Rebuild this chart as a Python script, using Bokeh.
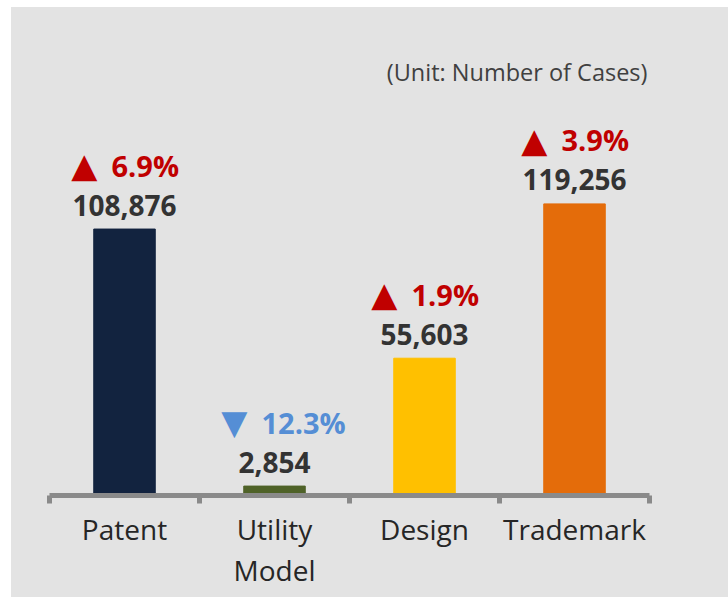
from bokeh.plotting import figure
from bokeh.layouts import column, row
from bokeh.models import Range1d, FixedTicker, ColumnDataSource, Spacer
from bokeh.core.properties import value
from bokeh.embed import file_html
from bokeh.resources import INLINE

categories = ["Patent", "Utility\nModel", "Design", "Trademark"]
counts = [108876, 2854, 55603, 119256]
changes = [6.9, -12.3, 1.9, 3.9]
bar_colors = ["#12233f", "#4f6228", "#ffc000", "#e46c0a"]
unit_label = "(Unit: Number of Cases)"

xs = list(range(1, len(categories) + 1))
count_text = [f"{c:,}" for c in counts]
arrow_text = ["▲" if c > 0 else "▼" for c in changes]
change_text = [f"{abs(c):.1f}%" for c in changes]
change_color = ["#c00000" if c > 0 else "#558ed5" for c in changes]

src = ColumnDataSource(dict(x=xs, top=counts, color=bar_colors, ctext=count_text,
                            atext=arrow_text, ptext=change_text, pcolor=change_color))

ypp = 412.5  # data units per pixel
x0 = 0.5 - 25 / 150
p = figure(width=717, height=590, output_backend="svg", toolbar_location=None,
           x_range=Range1d(x0, x0 + 628 / 150),
           y_range=Range1d(-2.5 * ypp, -2.5 * ypp + 395 * ypp),
           y_axis_location=None,
           min_border_left=13, min_border_right=76, min_border_top=93, min_border_bottom=102,
           background_fill_color=None, border_fill_color=None,
           outline_line_color=None)
p.styles = {"background-color": "#e3e3e3"}
p.grid.visible = False

p.vbar(x="x", top="top", bottom=0, width=0.41, color="color", source=src)

p.text(x="x", y="top", text="ctext", source=src, text_align="center",
       text_baseline="alphabetic", y_offset=-24, text_font=value("Open Sans"),
       text_font_style="bold", text_font_size="28px", text_color="#333333")
p.text(x="x", y="top", text="ptext", source=src, text_align="left",
       text_baseline="alphabetic", y_offset=-64, x_offset=-13,
       text_font=value("Open Sans"), text_font_style="bold",
       text_font_size="29px", text_color="pcolor")
p.text(x="x", y="top", text="atext", source=src, text_align="right",
       text_baseline="alphabetic", y_offset=-64, x_offset=-27,
       text_font=value("DejaVu Sans"), text_font_size="34px", text_color="pcolor")

ax = p.xaxis[0]
ax.ticker = FixedTicker(ticks=xs, minor_ticks=[x - 0.5 for x in xs] + [xs[-1] + 0.5])
ax.bounds = (0.5, len(xs) + 0.5)
ax.axis_line_color = "#8a8a8a"
ax.axis_line_width = 5
ax.major_tick_line_color = None
ax.major_tick_out = 0
ax.major_tick_in = 0
ax.minor_tick_line_color = "#8a8a8a"
ax.minor_tick_line_width = 5
ax.minor_tick_out = 8
ax.minor_tick_in = 0
ax.major_label_overrides = {x: c for x, c in zip(xs, categories)}
ax.major_label_text_font = "Open Sans"
ax.major_label_text_font_size = "28px"
ax.major_label_text_color = "#262626"
ax.major_label_text_line_height = 1.1
ax.major_label_standoff = 6

p.title.text = unit_label
p.title.align = "right"
p.title.offset = 5
p.title.text_font = "Open Sans"
p.title.text_font_size = "23.5px"
p.title.text_font_style = "normal"
p.title.text_color = "#404040"
p.title.standoff = 26

layout = column(Spacer(height=7), row(Spacer(width=11), p))
open("out.html", "w").write(file_html(layout, INLINE))
